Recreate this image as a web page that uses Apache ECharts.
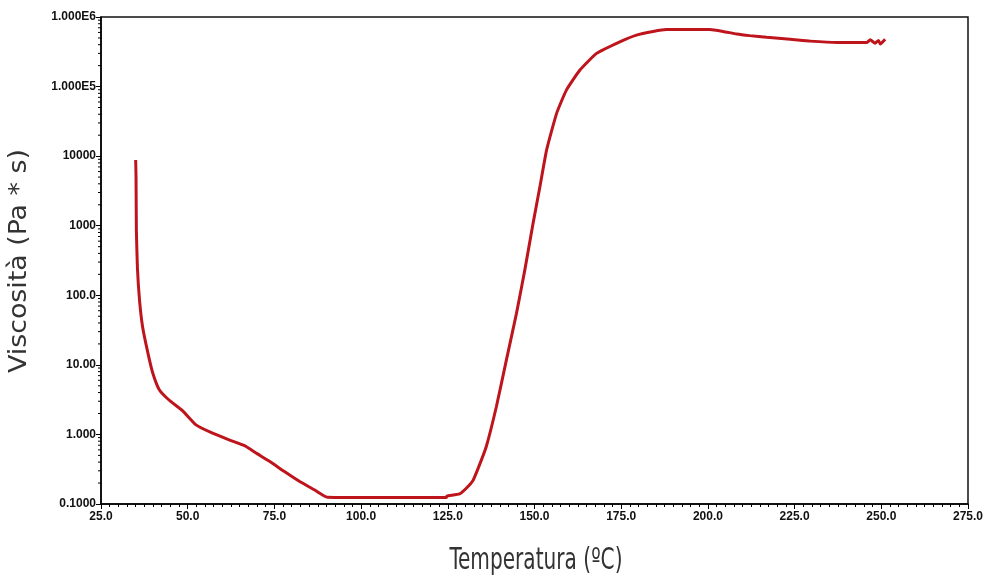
<!DOCTYPE html>
<html>
<head>
<meta charset="utf-8">
<script src="https://cdn.jsdelivr.net/npm/echarts@6/dist/echarts.min.js"></script>
<style>
html,body{margin:0;padding:0;background:#fff;}
#c{width:987px;height:581px;}
</style>
</head>
<body>
<div id="c"></div>
<script>
// Temperature (°C) and viscosity (Pa*s)
const temperature = [35.0,35.1,35.2,35.5,36.1,37.0,38.5,39.9,41.8,44.7,48.5,52.4,57.0,62.1,66.4,70.0,73.6,78.0,82.3,86.5,90.3,100,110,124.6,124.7,128.4,130.4,132.3,134.0,136.1,139.0,141.9,144.8,147.2,149.6,151.5,153.5,156.4,159.2,163.1,167.9,174.6,179.4,184.2,188.1,200.5,204.4,208.3,212.1,217.0,223.7,229.5,237.2,245.8,246.8,248.2,249.2,249.7,251.1];
const viscosity = [8800,5000,870,250,86,35,15,7.7,4.4,3.1,2.2,1.37,1.05,0.83,0.69,0.53,0.41,0.29,0.21,0.16,0.125,0.124,0.124,0.124,0.13,0.14,0.17,0.22,0.35,0.67,2.5,11.8,55,230,1090,3500,12300,41500,89000,173000,300000,440000,550000,620000,660000,660000,620000,570000,540000,510000,480000,450000,430000,430000,470000,420000,460000,410000,480000];

const yTickValues = [0.1,1,10,100,1000,10000,100000,1000000];
const yTickLabels = ["0.1000","1.000","10.00","100.0","1000","10000","1.000E5","1.000E6"];
const xMin = 25, xMax = 275, xStep = 25;
const xTitle = 'Temperatura (ºC)';
const yTitle = 'Viscosità (Pa * s)';

const minorY = [];
for (let e = -1; e < 6; e++) {
  for (let m = 2; m <= 9; m++) minorY.push([xMin, m * Math.pow(10, e)]);
}

const titleFont = '30px "DejaVu Sans Condensed", "Liberation Sans", sans-serif';
const ctx = document.createElement('canvas').getContext('2d');
ctx.font = titleFont;
const xTitleScale = 173 / ctx.measureText(xTitle).width;
const yTitleScale = 224 / ctx.measureText(yTitle).width;

const chart = echarts.init(document.getElementById('c'));
const tickFont = {fontFamily:'Liberation Sans, Arial, sans-serif', fontWeight:'bold', fontSize:12, color:'#111'};
chart.setOption({
  animation:false,
  backgroundColor:'#fff',
  grid:{left:101,right:19,top:17,bottom:77,show:true,borderColor:'#111',borderWidth:1.5,backgroundColor:'transparent'},
  graphic:[
    {type:'text', x:536, y:561, scaleX:xTitleScale, scaleY:1,
     style:{text:xTitle, font:titleFont, fill:'#333', align:'center', verticalAlign:'middle'}},
    {type:'text', x:20, y:261, rotation:Math.PI/2, scaleX:yTitleScale, scaleY:0.8,
     style:{text:yTitle, font:titleFont, fill:'#333', align:'center', verticalAlign:'middle'}}
  ],
  xAxis:{
    type:'value', min:xMin, max:xMax, interval:xStep,
    axisLine:{show:true,lineStyle:{color:'#000',width:1.5}},
    axisTick:{show:true,inside:false,length:5,lineStyle:{color:'#000',width:1}},
    minorTick:{show:true,splitNumber:10,length:3,lineStyle:{color:'#000',width:1}},
    splitLine:{show:false},
    axisLabel:Object.assign({margin:7, formatter:v=>v.toFixed(1)}, tickFont)
  },
  yAxis:{
    type:'log', logBase:10, min:0.1, max:1000000, interval:1,
    axisLine:{show:true,lineStyle:{color:'#000',width:1.5}},
    axisTick:{show:true,inside:false,length:5,lineStyle:{color:'#000',width:1}},
    splitLine:{show:false},
    axisLabel:Object.assign({margin:5, formatter:v=>{
      for (let i=0;i<yTickValues.length;i++){ if (Math.abs(Math.log10(v)-Math.log10(yTickValues[i]))<1e-6) return yTickLabels[i]; }
      return '';
    }}, tickFont)
  },
  series:[
    {
      type:'custom', clip:false, silent:true, z:5,
      data:minorY,
      renderItem:(params, api)=>{
        const p = api.coord([api.value(0), api.value(1)]);
        return {type:'line', shape:{x1:p[0]-3,y1:p[1],x2:p[0],y2:p[1]}, style:{stroke:'#000',lineWidth:1}};
      }
    },
    {
      type:'line', showSymbol:false, symbol:'none', smooth:0.15,
      data:temperature.map((t,i)=>[t, viscosity[i]]),
      lineStyle:{color:'#be141c', width:3},
      z:3
    }
  ]
});
</script>
</body>
</html>
